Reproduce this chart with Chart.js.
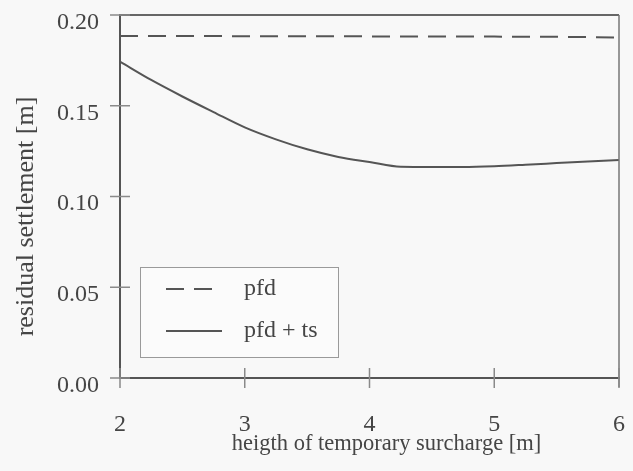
<!DOCTYPE html>
<html>
<head>
<meta charset="utf-8">
<script src="https://cdn.jsdelivr.net/npm/chart.js@4.4.1/dist/chart.umd.min.js"></script>
<style>
  html, body { margin: 0; padding: 0; background: #f8f8f8; }
  #wrap { width: 633px; height: 471px; }
</style>
</head>
<body>
<div id="wrap"><canvas id="c" width="633" height="471"></canvas></div>
<script>
// ---- data ----
const surchargeHeights = [2, 2.25, 2.5, 2.75, 3, 3.25, 3.5, 3.75, 4, 4.25, 4.5, 4.75, 5, 5.25, 5.5, 5.75, 6];
const pfd =       [0.1884, 0.1884, 0.1884, 0.1884, 0.1883, 0.1883, 0.1883, 0.1883, 0.1882, 0.1882, 0.1882, 0.1881, 0.1881, 0.1880, 0.1880, 0.1878, 0.1875];
const pfdPlusTs = [0.1743, 0.1642, 0.1551, 0.1465, 0.1381, 0.1315, 0.1260, 0.1218, 0.1190, 0.1164, 0.1163, 0.1163, 0.1167, 0.1175, 0.1184, 0.1193, 0.1201];
const xTicks = [2, 3, 4, 5, 6];
const yTicks = [0.00, 0.05, 0.10, 0.15, 0.20];
const seriesLabels = ['pfd', 'pfd + ts'];
const xTitle = 'heigth of temporary surcharge [m]';
const yTitle = 'residual settlement [m]';

const FONT = '"Liberation Serif", "Times New Roman", serif';
const TEXT = '#454545';

const toPoints = (ys) => surchargeHeights.map((x, i) => ({ x, y: ys[i] }));

const zeroPadding = (s) => { s.paddingLeft = 0; s.paddingRight = 0; s.paddingTop = 0; s.paddingBottom = 0; };

const framePlugin = {
  id: 'frame',
  afterDraw(chart) {
    const { ctx, chartArea: a, scales } = chart;
    ctx.save();
    // top and right border
    ctx.strokeStyle = '#666'; ctx.lineWidth = 2;
    ctx.beginPath(); ctx.moveTo(a.left, a.top); ctx.lineTo(a.right, a.top); ctx.stroke();
    ctx.strokeStyle = '#777'; ctx.lineWidth = 1.5;
    ctx.beginPath(); ctx.moveTo(a.right, a.top); ctx.lineTo(a.right, a.bottom + 9); ctx.stroke();
    // crossing tick marks
    ctx.strokeStyle = '#8a8a8a'; ctx.lineWidth = 1.5;
    xTicks.forEach(v => {
      const px = scales.x.getPixelForValue(v);
      ctx.beginPath(); ctx.moveTo(px, a.bottom - 10); ctx.lineTo(px, a.bottom + 10); ctx.stroke();
    });
    yTicks.forEach(v => {
      const py = scales.y.getPixelForValue(v);
      ctx.beginPath(); ctx.moveTo(a.left - 10, py); ctx.lineTo(a.left + 10, py); ctx.stroke();
    });
    // axis titles
    ctx.fillStyle = TEXT;
    ctx.font = '22.5px ' + FONT;
    ctx.textAlign = 'center'; ctx.textBaseline = 'alphabetic';
    ctx.fillText(xTitle, (a.left + a.right) / 2 + 17, a.bottom + 72);
    ctx.save();
    ctx.translate(33, (a.top + a.bottom) / 2 + 20);
    ctx.rotate(-Math.PI / 2);
    ctx.font = '26px ' + FONT;
    ctx.fillText(yTitle, 0, 0);
    ctx.restore();
    // legend box
    const lx = a.left + 20, ly = a.bottom - 111, lw = 198, lh = 90;
    ctx.fillStyle = '#fbfbfb';
    ctx.fillRect(lx, ly, lw, lh);
    ctx.strokeStyle = '#9a9a9a'; ctx.lineWidth = 1;
    ctx.strokeRect(lx + 0.5, ly + 0.5, lw, lh);
    chart.data.datasets.forEach((ds, i) => {
      const cy = ly + 22 + i * 42;
      ctx.strokeStyle = ds.borderColor; ctx.lineWidth = ds.borderWidth;
      ctx.setLineDash(ds.borderDash || []);
      ctx.beginPath(); ctx.moveTo(lx + 26, cy); ctx.lineTo(lx + 82, cy); ctx.stroke();
      ctx.setLineDash([]);
      ctx.fillStyle = TEXT;
      ctx.font = '24px ' + FONT;
      ctx.textAlign = 'left'; ctx.textBaseline = 'middle';
      ctx.fillText(ds.label, lx + 104, cy);
    });
    ctx.restore();
  }
};

new Chart(document.getElementById('c'), {
  type: 'line',
  data: {
    datasets: [
      { label: seriesLabels[0], data: toPoints(pfd), borderColor: '#555', borderWidth: 2, borderDash: [18, 10], pointRadius: 0, tension: 0, fill: false },
      { label: seriesLabels[1], data: toPoints(pfdPlusTs), borderColor: '#555', borderWidth: 2, pointRadius: 0, cubicInterpolationMode: 'monotone', fill: false }
    ]
  },
  options: {
    responsive: false,
    animation: false,
    layout: { padding: { top: 15, right: 14, left: 0, bottom: 0 } },
    plugins: { legend: { display: false }, tooltip: { enabled: false } },
    scales: {
      x: {
        type: 'linear', min: 2, max: 6,
        afterBuildTicks: (s) => { s.ticks = xTicks.map(v => ({ value: v })); },
        afterFit: (s) => { s.height = 93; zeroPadding(s); },
        grid: { display: false, drawTicks: false },
        border: { display: true, color: '#555', width: 2 },
        ticks: { padding: 32, color: TEXT, font: { family: FONT, size: 24 }, maxRotation: 0, callback: (v) => String(v) }
      },
      y: {
        type: 'linear', min: 0, max: 0.2,
        afterBuildTicks: (s) => { s.ticks = yTicks.map(v => ({ value: v })); },
        afterFit: (s) => { s.width = 120; zeroPadding(s); },
        grid: { display: false, drawTicks: false },
        border: { display: true, color: '#555', width: 2 },
        ticks: {
          padding: 21, color: TEXT, font: { family: FONT, size: 24 },
          labelOffset: (c) => (c.tick && c.tick.value === 0 ? 15 : 7.5),
          callback: (v) => v.toFixed(2)
        }
      }
    }
  },
  plugins: [framePlugin]
});
</script>
</body>
</html>
